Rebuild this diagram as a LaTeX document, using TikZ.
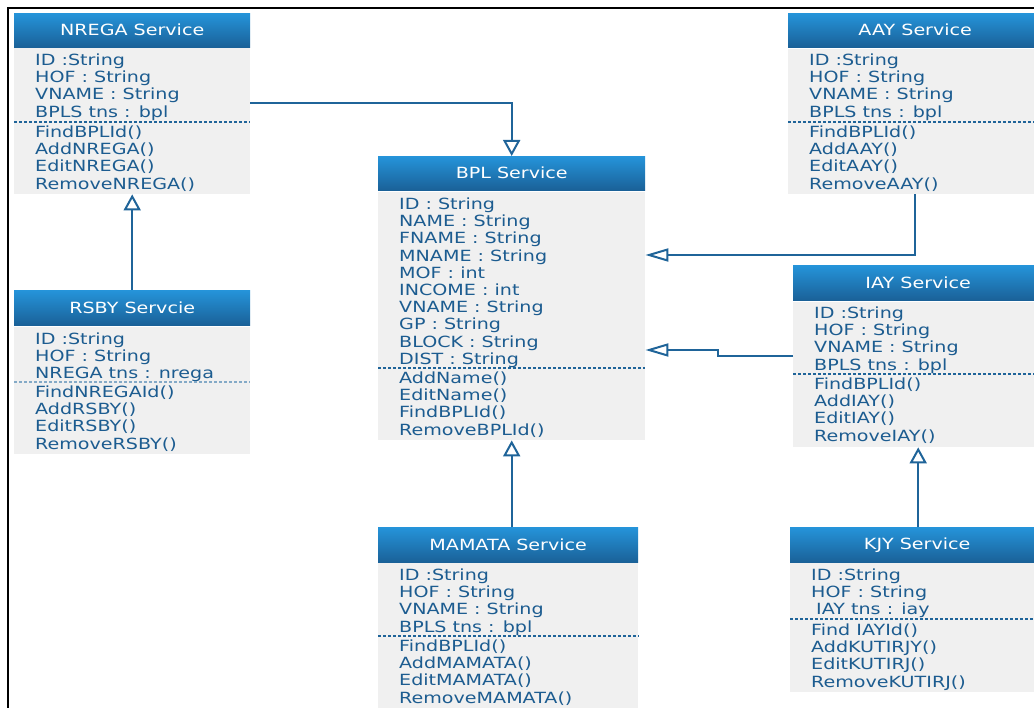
\documentclass[tikz,border=0pt]{standalone}
\usepackage{fontspec}
\newfontfamily\clsfont[FakeStretch=1.24]{DejaVu Sans}
\usetikzlibrary{arrows.meta}

\definecolor{umltext}{HTML}{1C5C90}
\definecolor{hdrtop}{HTML}{2594DA}
\definecolor{hdrbot}{HTML}{1A6198}
\definecolor{bodyfill}{HTML}{F0F0F0}
\definecolor{linecol}{HTML}{1F6499}

\tikzset{
  hdr/.style={draw=none, top color=hdrtop, bottom color=hdrbot, text=white,
    font=\clsfont\fontsize{15.4}{17}\selectfont, inner sep=0pt, anchor=north west},
  bodybox/.style={fill=bodyfill, draw=none, inner sep=0pt, anchor=north west},
  member/.style={text=umltext, font=\clsfont\fontsize{15.4}{17}\selectfont,
    inner sep=0pt, anchor=base west},
  sepline/.style={draw=linecol, line width=1.3pt, dash pattern=on 3pt off 2pt},
  inheritv/.style={draw=linecol, line width=2pt,
    -{Triangle[open, fill=white, length=16pt, width=17pt]}},
  inherith/.style={draw=linecol, line width=2pt,
    -{Triangle[open, fill=white, length=23pt, width=13pt]}},
  frameline/.style={draw=black, line width=1.2pt}
}

% one member per line, 17.2pt apart, starting at a given baseline
\newcommand\memberlist[4]{%
  \foreach \m [count=\k] in {#4}{%
    \node[member] (#1-\k) at ({#2},{#3+17.2*(\k-1)}) {\m};
  }}

\begin{document}
\begin{tikzpicture}[x=1pt,y=-1pt]
\clip (0,0) rectangle (1034,708);
\fill[white] (0,0) rectangle (1034,708);

% outer frame
\draw[frameline] (8,720) -- (8,8) -- (1040,8);

% ---------- NREGA Service ----------
\node[hdr, minimum width=236pt, minimum height=34pt] (nrega) at (14,13) {NREGA Service};
\node[bodybox, minimum width=236pt, minimum height=146pt] (nrega-b) at (14,48) {};
\memberlist{nrega-a}{35}{65.5}{ID :String, HOF : String, VNAME : String, BPLS tns : bpl}
\draw[sepline] (nrega-b.west |- 0,122) -- (nrega-b.east |- 0,122);
\memberlist{nrega-m}{35}{137.5}{FindBPLId(), AddNREGA(), EditNREGA(), RemoveNREGA()}

% ---------- RSBY Servcie ----------
\node[hdr, minimum width=236pt, minimum height=35pt] (rsby) at (14,290) {RSBY Servcie};
\node[bodybox, minimum width=236pt, minimum height=127pt] (rsby-b) at (14,327) {};
\memberlist{rsby-a}{35}{344.5}{ID :String, HOF : String, NREGA tns : nrega}
\draw[sepline, draw=linecol!55] (rsby-b.west |- 0,382) -- (rsby-b.east |- 0,382);
\memberlist{rsby-m}{35}{397.5}{FindNREGAId(), AddRSBY(), EditRSBY(), RemoveRSBY()}

% ---------- BPL Service ----------
\node[hdr, minimum width=267pt, minimum height=34pt] (bpl) at (378,156) {BPL Service};
\node[bodybox, minimum width=267pt, minimum height=248pt] (bpl-b) at (378,192) {};
\memberlist{bpl-a}{399}{209.5}{ID : String, NAME : String, FNAME : String, MNAME : String,
  MOF : int, INCOME : int, VNAME : String, GP : String, BLOCK : String, DIST : String}
\draw[sepline] (bpl-b.west |- 0,368) -- (bpl-b.east |- 0,368);
\memberlist{bpl-m}{399}{383.5}{AddName(), EditName(), FindBPLId(), RemoveBPLId()}

% ---------- AAY Service ----------
\node[hdr, minimum width=254pt, minimum height=34pt] (aay) at (788,13) {AAY Service};
\node[bodybox, minimum width=254pt, minimum height=145pt] (aay-b) at (788,49) {};
\memberlist{aay-a}{809}{65.5}{ID :String, HOF : String, VNAME : String, BPLS tns : bpl}
\draw[sepline] (aay-b.west |- 0,122) -- (aay-b.east |- 0,122);
\memberlist{aay-m}{809}{137.5}{FindBPLId(), AddAAY(), EditAAY(), RemoveAAY()}

% ---------- IAY Service ----------
\node[hdr, minimum width=250pt, minimum height=35pt] (iay) at (793,265) {IAY Service};
\node[bodybox, minimum width=250pt, minimum height=145pt] (iay-b) at (793,302) {};
\memberlist{iay-a}{814}{318.5}{ID :String, HOF : String, VNAME : String, BPLS tns : bpl}
\draw[sepline] (iay-b.west |- 0,374) -- (iay-b.east |- 0,374);
\memberlist{iay-m}{814}{389.5}{FindBPLId(), AddIAY(), EditIAY(), RemoveIAY()}

% ---------- MAMATA Service ----------
\node[hdr, minimum width=260pt, minimum height=35pt] (mamata) at (378,527) {MAMATA Service};
\node[bodybox, minimum width=260pt, minimum height=150pt] (mamata-b) at (378,563) {};
\memberlist{mamata-a}{399}{580.5}{ID :String, HOF : String, VNAME : String, BPLS tns : bpl}
\draw[sepline] (mamata-b.west |- 0,636) -- (mamata-b.east |- 0,636);
\memberlist{mamata-m}{399}{651.5}{FindBPLId(), AddMAMATA(), EditMAMATA(), RemoveMAMATA()}

% ---------- KJY Service ----------
\node[hdr, minimum width=254pt, minimum height=35pt] (kjy) at (790,527) {KJY Service};
\node[bodybox, minimum width=254pt, minimum height=129pt] (kjy-b) at (790,563) {};
\memberlist{kjy-a}{811}{580.5}{ID :String, HOF : String, {\hspace{5pt}IAY tns : iay}}
\draw[sepline] (kjy-b.west |- 0,619) -- (kjy-b.east |- 0,619);
\memberlist{kjy-m}{811}{635.5}{Find IAYId(), AddKUTIRJY(), EditKUTIRJ(), RemoveKUTIRJ()}

% ---------- generalisations ----------
\draw[inheritv] (nrega-b.east |- 0,103) -| (bpl.north);
\draw[inheritv] (rsby.north) -- (nrega-b.south);
\draw[inherith] (aay-b.south) |- (bpl-b.east |- 0,255);
\draw[inherith] (iay-b.west |- 0,356) -- ++(-75,0) -- ++(0,-6) -- (bpl-b.east |- 0,350);
\draw[inheritv] (mamata.north -| bpl-b.south) -- (bpl-b.south);
\draw[inheritv] (kjy.north -| iay-b.south) -- (iay-b.south);
\end{tikzpicture}
\end{document}
